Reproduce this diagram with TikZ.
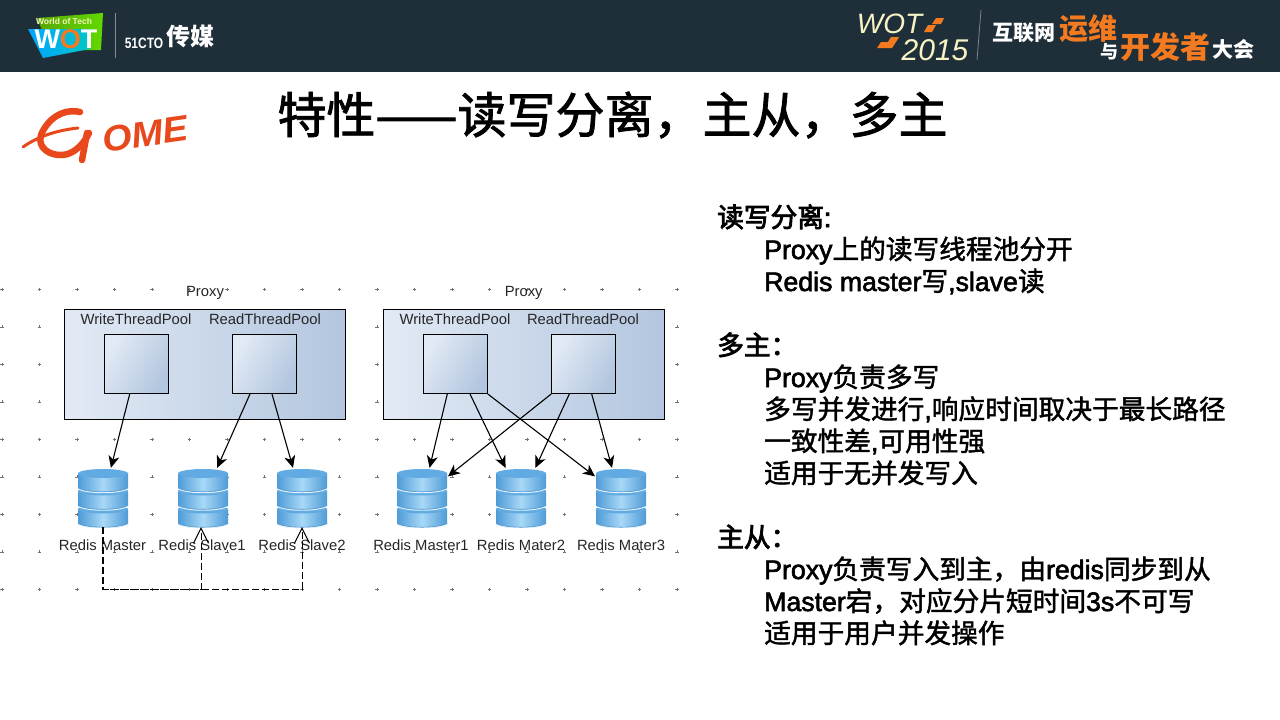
\documentclass[tikz,border=0pt]{standalone}
\usepackage{fontspec}
\setmainfont{Liberation Sans}
\newfontfamily\cjk{Noto Sans CJK SC}
\newfontfamily\cjkbold[FakeBold=1.6]{Noto Sans CJK SC}
\newfontfamily\cjkheavy[FakeBold=3]{Noto Sans CJK SC}
\newfontfamily\latinbold[FakeBold=2.2]{Liberation Sans}
\newfontfamily\latinheavy[FakeBold=3.5]{Liberation Sans}
\newcommand{\zh}[1]{{\cjkbold #1}}
\newcommand{\zhheavy}[1]{{\cjkheavy #1}}
\usetikzlibrary{arrows.meta}
\definecolor{headerbg}{HTML}{1F2F3A}
\definecolor{wotorange}{HTML}{F47A20}
\definecolor{wotcream}{HTML}{F6F4C4}
\definecolor{gomered}{HTML}{E8481C}
\definecolor{boxlight}{HTML}{E2EAF5}
\definecolor{boxdark}{HTML}{B3C6DF}
\definecolor{dbedge}{HTML}{4F9BD8}
\definecolor{dblight}{HTML}{A8D8F6}
\definecolor{dbtop}{HTML}{62ABE2}
\definecolor{dbline}{HTML}{5A9BD0}
\newcommand{\dbdisk}[1]{%
  \shade[left color=dbedge,right color=dbedge,middle color=dblight] (-25,#1) rectangle (25,#1+14);
  \shade[left color=dbedge,right color=dbedge,middle color=dblight] (0,#1+14) ellipse [x radius=25,y radius=4.5];
  \fill[dbtop] (0,#1) ellipse [x radius=25,y radius=4.5];
  \draw[white!70!dblight,line width=1pt] (-25,#1+15.4) .. controls (-15,#1+20.5) and (15,#1+20.5) .. (25,#1+15.4);
  \draw[dbline,line width=0.6pt] (-25,#1+14.4) .. controls (-15,#1+19.5) and (15,#1+19.5) .. (25,#1+14.4);
}
\tikzset{
  panelbox/.style={draw=black,line width=1pt,left color=boxlight,right color=boxdark,minimum width=281pt,minimum height=110pt,inner sep=0pt},
  poolbox/.style={draw=black,line width=1pt,left color=boxlight,right color=boxdark,shading angle=60,minimum width=64pt,minimum height=59pt,inner sep=0pt},
  dbnode/.style={minimum width=50pt,minimum height=58pt,inner sep=0pt,path picture={\dbdisk{11}\dbdisk{-7}\dbdisk{-24.5}}},
  smalltext/.style={font=\fontsize{14.8pt}{17pt}\selectfont,text=black!85,inner sep=0pt},
  flow/.style={-{Stealth[length=12pt,width=11pt,inset=3.5pt]},line width=1.1pt,shorten >=1pt},
  syncline/.style={-{Straight Barb[length=15pt,width=15pt]},line width=1pt,dash pattern=on 7pt off 3pt},
  griddot/.style={draw=black!55,line width=0.45pt},
  gomestroke/.style={draw=gomered,line width=6.5pt,line cap=round},
  bodyhead/.style={anchor=base west,inner sep=0pt,font=\fontsize{26.7pt}{32pt}\latinheavy},
  bodyline/.style={anchor=base west,inner sep=0pt,text=black,font=\fontsize{26.7pt}{32pt}\latinbold},
  titletext/.style={inner sep=0pt,font=\fontsize{49pt}{56pt}\cjkbold},
  whitezh/.style={inner sep=0pt,text=white,font=\bfseries\cjk},
  orangezh/.style={inner sep=0pt,text=wotorange,font=\bfseries\cjk}
}
\begin{document}
\begin{tikzpicture}[x=1pt,y=-1pt]
\useasboundingbox (0,0) rectangle (1280,720);
\fill[white] (0,0) rectangle (1280,720);
%% header
\fill[headerbg] (0,0) rectangle (1280,71.5);
\shade[left color=olive!70!green,right color=green!55!yellow!85!black] (37,18) -- (103,13) -- (101,50) -- (50,50) -- cycle;
\shade[left color=cyan!65!blue,right color=cyan!55!teal] (28,29) -- (90,29) -- (90,49) -- (43,58) -- cycle;
\node[inner sep=0pt,text=wotcream,font=\bfseries\fontsize{8.5pt}{10pt}\selectfont] (wotsmall) at (64,21.5) {World of Tech};
\node[inner sep=0pt,text=white,font=\bfseries\fontsize{27pt}{30pt}\selectfont] (wotbig) at (66,39) {W{\color{wotorange}O}T};
\coordinate (sepa1) at (115.5,13);
\coordinate (sepa2) at (115.5,58);
\draw[white!45!headerbg,line width=0.7pt] (sepa1) -- (sepa2);
\node[inner sep=0pt,text=white,xscale=0.8,font=\bfseries\fontsize{15pt}{17pt}\selectfont] (cto) at (144,43) {51CTO};
\node[whitezh,font=\bfseries\cjk\fontsize{24pt}{28pt}\selectfont] (media) at (190,36) {传媒};
\node[inner sep=0pt,text=wotcream,font=\itshape\fontsize{28pt}{30pt}\selectfont] (wotword) at (889.5,24) {WOT};
\node[inner sep=0pt,text=wotcream,font=\itshape\fontsize{30pt}{32pt}\selectfont] (wotyear) at (935,50) {2015};
\fill[wotorange] (936,18) -- (944,18) -- (941,24) -- (932,24) -- cycle (928,25) -- (936,25) -- (932,32) -- (924,32) -- cycle;
\fill[wotorange] (891,37) -- (899,37) -- (896,42) -- (888,42) -- cycle (881,42) -- (896,42) -- (892,48) -- (877,48) -- cycle;
\coordinate (sepb1) at (981,10);
\coordinate (sepb2) at (977,60);
\draw[white!45!headerbg,line width=0.7pt] (sepb1) -- (sepb2);
\node[whitezh,font=\bfseries\cjk\fontsize{21pt}{24pt}\selectfont] (eva) at (1024,33) {互联网};
\node[orangezh,font=\bfseries\cjk\fontsize{29pt}{32pt}\selectfont] (evb) at (1088.5,29) {运维};
\node[whitezh,font=\bfseries\cjk\fontsize{18pt}{20pt}\selectfont] (evc) at (1109,52) {与};
\node[orangezh,font=\bfseries\cjk\fontsize{30pt}{34pt}\selectfont] (evd) at (1165,47) {开发者};
\node[whitezh,font=\bfseries\cjk\fontsize{21pt}{24pt}\selectfont] (eve) at (1233.5,49) {大会};
%% logo
\draw[gomestroke] (80,112) .. controls (62,108) and (47,120) .. (41,135) .. controls (37,148) and (50,156) .. (63,155) .. controls (75,154) and (85,142) .. (89,133);
\draw[gomestroke] (87,133) -- (82,160);
\draw[gomestroke,line width=3pt] (23,147) .. controls (40,135) and (60,130) .. (78,128);
\node[inner sep=0pt,text=gomered,rotate=8,xscale=1.05,font=\bfseries\itshape\fontsize{36pt}{38pt}\selectfont] (gome) at (145,134) {OME};
%% title
\node[titletext] (title) at (612.5,115) {特性——读写分离，主从，多主};
%% grid
\foreach \x in {0,...,18}
  \foreach \y in {0,...,8}
  {
    \draw[griddot] ({2+37.5*\x-1.6},{289.3+37.5*\y}) -- ++(3.2,0) ({2+37.5*\x},{289.3+37.5*\y-1.6}) -- ++(0,3.2);
  };
%% left side
\node[panelbox] (lproxy) at (205,364) {};
\node[poolbox] (lwrite) at (136.5,364) {};
\node[poolbox] (lread) at (264.5,364) {};
\node[smalltext] (lproxytext) at (205,293) {Proxy};
\node[smalltext] (lwritetext) at (136,319) {WriteThreadPool};
\node[smalltext] (lreadtext) at (265,319) {ReadThreadPool};
\node[dbnode] (rm) at (103,498) {};
\node[dbnode] (rsa) at (203,498) {};
\node[dbnode] (rsb) at (302,498) {};
\node[smalltext] (rmtext) at (102.5,545) {Redis Master};
\node[smalltext] (rsatext) at (202,545) {Redis Slave1};
\node[smalltext] (rsbtext) at (302,545) {Redis Slave2};
%% right side
\node[panelbox] (rproxy) at (523.8,364) {};
\node[poolbox] (rwrite) at (455.3,364) {};
\node[poolbox] (rread) at (583.7,364) {};
\node[smalltext] (rproxytext) at (523.7,293) {Proxy};
\node[smalltext] (rwritetext) at (455,319) {WriteThreadPool};
\node[smalltext] (rreadtext) at (583,319) {ReadThreadPool};
\node[dbnode] (ma) at (422,498) {};
\node[dbnode] (mb) at (521,498) {};
\node[dbnode] (mc) at (621,498) {};
\node[smalltext] (matext) at (421,545) {Redis Master1};
\node[smalltext] (mbtext) at (521,545) {Redis Mater2};
\node[smalltext] (mctext) at (621,545) {Redis Mater3};
%% connectors
\foreach \startNode/\startShift/\endNode/\endShift in {lwrite/-6.8/rm/7.7, lread/-14.5/rsa/13.7, lread/7.5/rsb/-8.7, rwrite/-8/ma/7.3, rwrite/14.7/mb/-15, rread/-14.4/mb/14, rread/8/mc/-8.7}
{
  \draw[flow] ([xshift=\startShift pt]\startNode.south) -- ([xshift=\endShift pt]\endNode.north);
};
\draw[flow] (rwrite.south east) -- ([yshift=21pt]mc.west);
\draw[flow] (rread.south west) -- ([yshift=21pt]ma.east);
\draw[syncline] ([xshift=-0.6pt]rm.south) -- ++(0,62) -| ([xshift=-2pt]rsa.south);
\draw[syncline] ([xshift=0.8pt]rm.south) -- ++(0,62) -| (rsb.south);
%% text on the right
\node[bodyhead] (hrw) at (717,227) {\zhheavy{读写分离}:};
\node[bodyline] (la) at (764,259) {Proxy\zh{上的读写线程池分开}};
\node[bodyline] (lb) at (764,291) {Redis master\zh{写},slave\zh{读}};
\node[bodyhead] (hmm) at (717,355) {\zhheavy{多主：}};
\node[bodyline] (lc) at (764,387) {Proxy\zh{负责多写}};
\node[bodyline] (ld) at (764,419) {\zh{多写并发进行},\zh{响应时间取决于最长路径}};
\node[bodyline] (le) at (764,451) {\zh{一致性差},\zh{可用性强}};
\node[bodyline] (lf) at (764,483) {\zh{适用于无并发写入}};
\node[bodyhead] (hms) at (717,547) {\zhheavy{主从：}};
\node[bodyline] (lg) at (764,579) {Proxy\zh{负责写入到主，由}redis\zh{同步到从}};
\node[bodyline] (lh) at (764,611) {Master\zh{宕，对应分片短时间}3s\zh{不可写}};
\node[bodyline] (li) at (764,643) {\zh{适用于用户并发操作}};
\end{tikzpicture}
\end{document}
